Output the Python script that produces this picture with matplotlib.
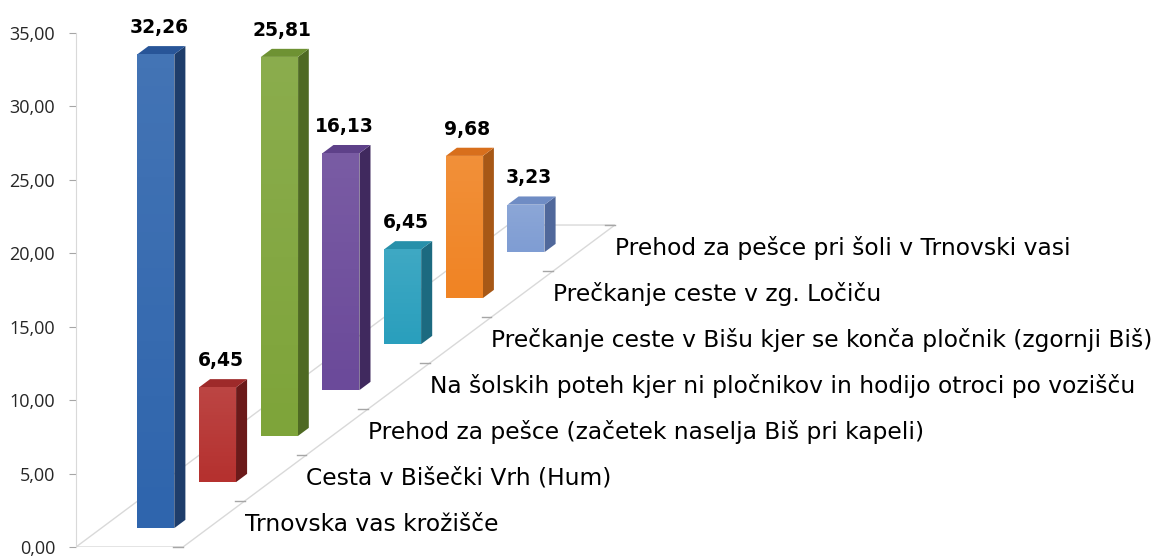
import numpy as np
import matplotlib.pyplot as plt
from matplotlib.patches import Polygon

categories = [
    'Trnovska vas krožišče',
    'Cesta v Bišečki Vrh (Hum)',
    'Prehod za pešce (začetek naselja Biš pri kapeli)',
    'Na šolskih poteh kjer ni pločnikov in hodijo otroci po vozišču',
    'Prečkanje ceste v Bišu kjer se konča pločnik (zgornji Biš)',
    'Prečkanje ceste v zg. Ločiču',
    'Prehod za pešce pri šoli v Trnovski vasi',
]
values = [32.26, 6.45, 25.81, 16.13, 6.45, 9.68, 3.23]
yticks = [0, 5, 10, 15, 20, 25, 30, 35]

front_colors = ['#2f65ad', '#b5312f', '#7ea43a', '#6b4a9a', '#2a9fbd', '#f08424', '#7f9dd3']
side_colors = ['#1e3d6b', '#6b1a1a', '#4f6a23', '#40295e', '#1c6a80', '#a75816', '#50689b']
top_colors = ['#285598', '#9e2a2a', '#6e9233', '#5e4189', '#2790aa', '#d86f1c', '#6f8cc4']

# fake 3d: x unit = one category step, y unit = value
STEP_Y = 3.132
FLOOR_W = 1.734
BAR_U, BAR_W = 0.583, 0.60
BAR_D0, BAR_D1 = 0.41, 0.59
n = len(values)


def proj(u, d, v=0.0):
    return (u + d, v + d * STEP_Y)


def fmt(v):
    return f'{v:.2f}'.replace('.', ',')


fig = plt.figure(figsize=(11.59, 5.56), dpi=100)
ax = fig.add_axes([76 / 1159, 9 / 556, 1083 / 1159, 514 / 556])

grid_c = '#d9d9d9'
# floor
floor = [proj(0, 0), proj(FLOOR_W, 0), proj(FLOOR_W, n), proj(0, n)]
ax.add_patch(Polygon(floor, closed=True, fill=False, edgecolor=grid_c, lw=1, zorder=1))
# category ticks on the floor edge
for k in range(n + 1):
    x, y = proj(FLOOR_W, k)
    ax.plot([x - 0.16, x], [y, y], color='#a6a6a6', lw=1, zorder=1, clip_on=False)

# white sheen, stronger at the top of the front face
sheen = np.zeros((50, 1, 4))
sheen[:, 0, :3] = 1.0
sheen[:, 0, 3] = np.linspace(0.0, 0.10, 50)

# bars, back to front
for i in reversed(range(n)):
    v = values[i]
    u0, u1 = BAR_U, BAR_U + BAR_W
    d0, d1 = i + BAR_D0, i + BAR_D1
    front = [proj(u0, d0), proj(u1, d0), proj(u1, d0, v), proj(u0, d0, v)]
    side = [proj(u1, d0), proj(u1, d1), proj(u1, d1, v), proj(u1, d0, v)]
    top = [proj(u0, d0, v), proj(u1, d0, v), proj(u1, d1, v), proj(u0, d1, v)]
    ax.add_patch(Polygon(side, closed=True, fc=side_colors[i], ec='none', zorder=3))
    ax.add_patch(Polygon(top, closed=True, fc=top_colors[i], ec='none', zorder=3))
    ax.add_patch(Polygon(front, closed=True, fc=front_colors[i], ec='none', zorder=4))
    ax.imshow(sheen, extent=[front[0][0], front[1][0], front[0][1], front[2][1]],
              aspect='auto', origin='lower', zorder=5, interpolation='bilinear')
    lx = proj((u0 + u1) / 2, d0, v)[0] + 0.05
    ly = proj(0, (d0 + d1) / 2, v)[1]
    ax.text(lx, ly + 1.55, fmt(v), ha='center', va='center',
            fontsize=13.5, fontweight='bold', color='black', zorder=6)
    tx, ty = proj(FLOOR_W, i + 0.5)
    ax.text(tx + 0.5, ty, categories[i], ha='left', va='center',
            fontsize=16.8, color='black', zorder=6, clip_on=False)

ax.set_xlim(0, 1083 / 61.7)
ax.set_ylim(0, 35)
for s in ['top', 'right', 'bottom']:
    ax.spines[s].set_visible(False)
ax.spines['left'].set_color(grid_c)
ax.set_xticks([])
ax.set_yticks(yticks)
ax.set_yticklabels([fmt(t) for t in yticks], fontsize=13, family='Open Sans', color='#262626')
ax.tick_params(axis='y', color='#a6a6a6', length=5, pad=10)

fig.savefig('out.png', dpi=100)
